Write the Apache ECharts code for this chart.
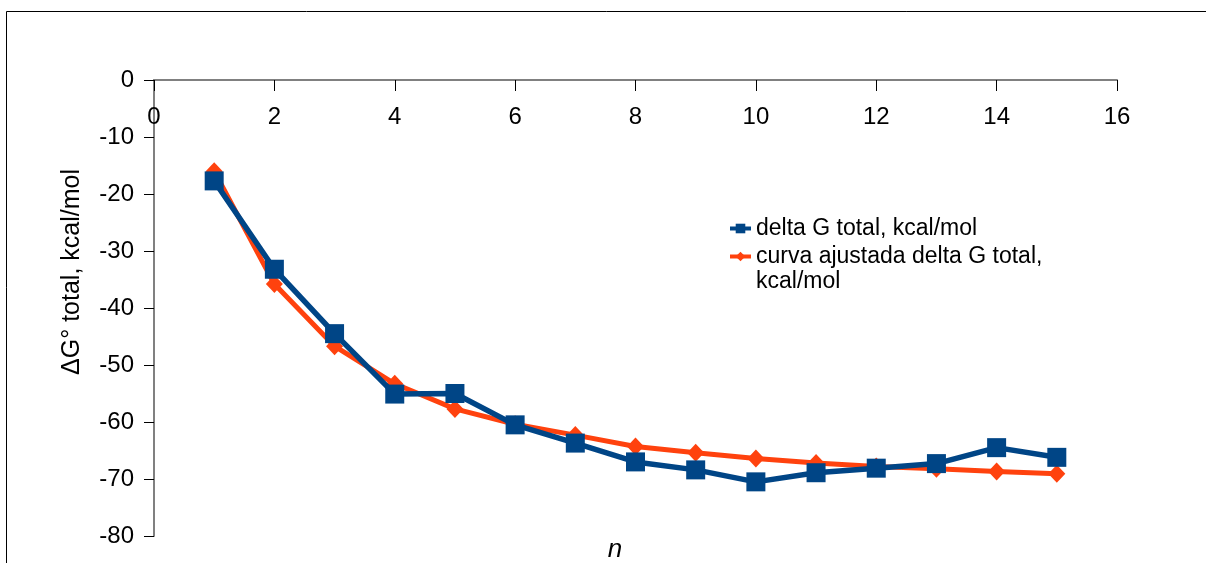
<!DOCTYPE html>
<html>
<head>
<meta charset="utf-8">
<script src="https://cdn.jsdelivr.net/npm/echarts@6/dist/echarts.min.js"></script>
<style>
  html, body { margin: 0; padding: 0; background: #ffffff; }
  #chart { width: 1206px; height: 563px; }
</style>
</head>
<body>
<div id="chart"></div>
<script>
// Number of units n
const nValues = [1, 2, 3, 4, 5, 6, 7, 8, 9, 10, 11, 12, 13, 14, 15];
// Total free energy per n (kcal/mol)
const deltaGTotal = [-17.7, -33.2, -44.5, -55.1, -55.0, -60.5, -63.7, -67.0, -68.4, -70.5, -68.9, -68.1, -67.3, -64.5, -66.2];
// Fitted curve of the total free energy (kcal/mol)
const deltaGFit = [-16.0, -35.8, -46.7, -53.3, -57.7, -60.4, -62.3, -64.3, -65.4, -66.4, -67.2, -67.8, -68.2, -68.7, -69.1];

const nameMeasured = 'delta G total, kcal/mol';
const nameFit = 'curva ajustada delta G total, kcal/mol';
const yTitle = '\u0394G\u00b0 total, kcal/mol';
const xTitle = 'n';

const BLUE = '#004586';
const ORANGE = '#ff420e';
const FONT = '"Liberation Sans", Arial, sans-serif';

const pairs = (ys) => nValues.map((n, i) => [n, ys[i]]);

const chart = echarts.init(document.getElementById('chart'), null, { renderer: 'canvas' });

// The n axis crosses the value axis at 0, i.e. along the top edge of the plot,
// with its ticks and labels hanging below the line.
chart.setOption({
  animation: false,
  backgroundColor: '#ffffff',
  grid: { left: 154, right: 89, top: 80, bottom: 27, containLabel: false },
  xAxis: {
    type: 'value',
    min: 0, max: 16, interval: 2,
    position: 'top',
    axisLine: { show: true, onZero: false, lineStyle: { color: '#808080', width: 2 } },
    axisTick: { show: true, inside: true, length: 11, lineStyle: { color: '#000000', width: 1 } },
    axisLabel: { show: true, inside: true, margin: 25, color: '#000000', fontFamily: FONT, fontSize: 24, showMinLabel: true, showMaxLabel: true },
    splitLine: { show: false }
  },
  yAxis: {
    type: 'value',
    min: -80, max: 0, interval: 10,
    axisLine: { show: true, onZero: false, lineStyle: { color: '#808080', width: 2 } },
    axisTick: { show: true, inside: false, length: 10, lineStyle: { color: '#000000', width: 1 } },
    axisLabel: { show: true, margin: 20, color: '#000000', fontFamily: FONT, fontSize: 24, showMinLabel: true, showMaxLabel: true },
    splitLine: { show: false }
  },
  legend: [
    {
      left: 728, top: 216, padding: 0,
      orient: 'vertical',
      itemWidth: 21, itemHeight: 12,
      lineStyle: { width: 4 },
      data: [nameMeasured],
      textStyle: { color: '#000000', fontFamily: FONT, fontSize: 23, lineHeight: 25 }
    },
    {
      left: 728, top: 219, padding: 0,
      orient: 'vertical',
      itemWidth: 21, itemHeight: 12,
      lineStyle: { width: 4 },
      data: [nameFit],
      formatter: (name) => '\n' + name.replace(', kcal', ',\nkcal'),
      textStyle: { color: '#000000', fontFamily: FONT, fontSize: 23, lineHeight: 25 }
    }
  ],
  graphic: [
    {
      type: 'rect', silent: true, z: -1,
      shape: { x: 6.5, y: 11.5, width: 1400, height: 700 },
      style: { fill: 'none', stroke: '#000000', lineWidth: 1 }
    },
    {
      type: 'text', silent: true,
      x: 72, y: 272, rotation: Math.PI / 2,
      style: { text: yTitle, font: '25px ' + FONT, fill: '#000000', align: 'center', verticalAlign: 'middle' }
    },
    {
      type: 'text', silent: true,
      x: 615, y: 550,
      style: { text: xTitle, font: 'italic 26px ' + FONT, fill: '#000000', align: 'center', verticalAlign: 'middle' }
    }
  ],
  series: [
    {
      name: nameFit,
      type: 'line',
      data: pairs(deltaGFit),
      symbol: 'diamond',
      symbolSize: [17, 18],
      showAllSymbol: true,
      itemStyle: { color: ORANGE },
      lineStyle: { color: ORANGE, width: 5 },
      z: 2
    },
    {
      name: nameMeasured,
      type: 'line',
      data: pairs(deltaGTotal),
      symbol: 'rect',
      symbolSize: 19,
      showAllSymbol: true,
      itemStyle: { color: BLUE },
      lineStyle: { color: BLUE, width: 5.5 },
      z: 3
    }
  ]
});
</script>
</body>
</html>
